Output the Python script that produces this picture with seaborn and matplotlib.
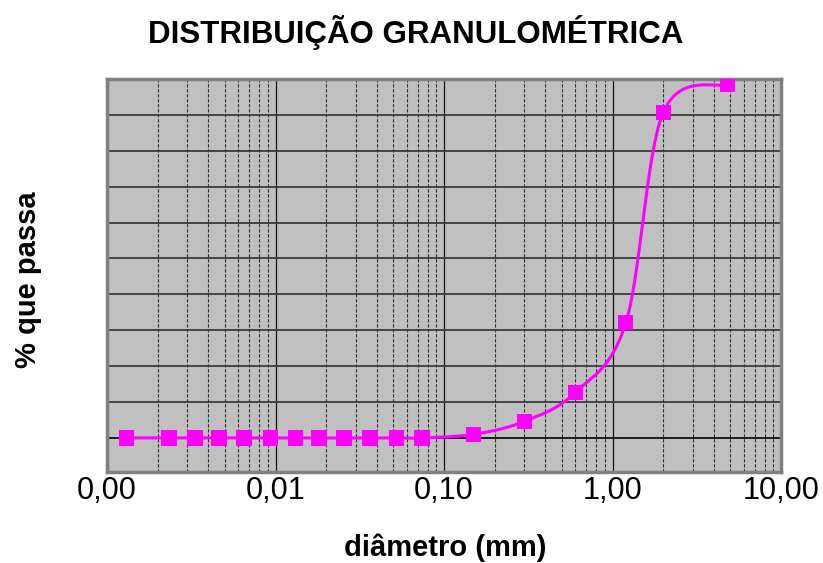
import numpy as np
import pandas as pd
import matplotlib
matplotlib.use("Agg")
import matplotlib.pyplot as plt
from matplotlib.ticker import FixedLocator, LogLocator, NullFormatter
import seaborn as sns

# Particle size distribution (sieve + sedimentation)
diametro_mm = [0.00131, 0.00233, 0.00333, 0.00462, 0.0065, 0.0093, 0.0131,
               0.0181, 0.0255, 0.0364, 0.052, 0.074, 0.15, 0.30, 0.60,
               1.2, 2.0, 4.8]
passa_pct = [0, 0, 0, 0, 0, 0, 0, 0, 0, 0, 0, 0,
             1.0, 4.6, 12.6, 32.1, 90.7, 98.5]
x_ticks = [0.001, 0.01, 0.1, 1, 10]
x_tick_labels = ["0,00", "0,01", "0,10", "1,00", "10,00"]

sns.set_theme(style="white")
plt.rcParams["font.family"] = ["Liberation Sans", "DejaVu Sans"]
plt.rcParams["text.color"] = "black"
plt.rcParams["axes.labelcolor"] = "black"

W, H = 823, 563
fig = plt.figure(figsize=(W / 100, H / 100), dpi=100)
ax = fig.add_axes([107 / W, 1 - 472 / H, (781 - 107) / W, (472 - 79) / H])

XMIN, XMAX = 1e-3, 10
YMIN, YMAX = -9.5, 100


def smooth_curve(xs, ys, n=40):
    """Catmull-Rom style Bezier smoothing in screen-proportional space."""
    axw, axh = 674.0, 393.0
    u = (np.log10(xs) - np.log10(XMIN)) / (np.log10(XMAX) - np.log10(XMIN)) * axw
    v = (np.asarray(ys, float) - YMIN) / (YMAX - YMIN) * axh
    P = np.column_stack([u, v])
    pts = []
    t = np.linspace(0, 1, n)[:, None]
    for i in range(len(P) - 1):
        p0 = P[i - 1] if i > 0 else P[i]
        p1, p2 = P[i], P[i + 1]
        p3 = P[i + 2] if i + 2 < len(P) else P[i + 1]
        c1 = p1 + (p2 - p0) / 6
        c2 = p2 - (p3 - p1) / 6
        seg = ((1 - t) ** 3) * p1 + 3 * ((1 - t) ** 2) * t * c1 \
            + 3 * (1 - t) * t ** 2 * c2 + t ** 3 * p2
        pts.append(seg if i == 0 else seg[1:])
    pts = np.vstack(pts)
    cx = 10 ** (pts[:, 0] / axw * (np.log10(XMAX) - np.log10(XMIN)) + np.log10(XMIN))
    cy = pts[:, 1] / axh * (YMAX - YMIN) + YMIN
    return cx, cy


cx, cy = smooth_curve(np.array(diametro_mm), passa_pct)
curve = pd.DataFrame({"d": cx, "p": cy})
pts = pd.DataFrame({"d": diametro_mm, "p": passa_pct})

ax.set_facecolor("#C0C0C0")
ax.set_xscale("log")
ax.set_xlim(XMIN, XMAX)
ax.set_ylim(YMIN, YMAX)

# grid
ax.xaxis.set_major_locator(FixedLocator(x_ticks))
ax.xaxis.set_minor_locator(LogLocator(base=10, subs=np.arange(2, 10)))
ax.xaxis.set_minor_formatter(NullFormatter())
ax.set_xticklabels(x_tick_labels)
ax.yaxis.set_major_locator(FixedLocator(np.arange(10, 100, 10)))
ax.set_yticklabels([])
ax.grid(True, which="major", axis="y", color="#3a3a3a", lw=1.3)
ax.grid(True, which="major", axis="x", color="#111111", lw=0.9)
ax.grid(True, which="minor", axis="x", color="#333333", lw=0.8,
        linestyle=(0, (3, 1.5)))
ax.axhline(0, color="black", lw=1.2, zorder=2)
ax.set_axisbelow(True)

sns.lineplot(data=curve, x="d", y="p", ax=ax, color="#FF00FF", lw=2.2,
             sort=False, estimator=None, zorder=3)
sns.scatterplot(data=pts, x="d", y="p", ax=ax, marker="s", s=120,
                color="#FF00FF", edgecolor="none", linewidth=0, zorder=4)

for s in ax.spines.values():
    s.set_color("#808080")
    s.set_linewidth(2.5)
    s.set_visible(True)

ax.tick_params(axis="x", which="both", length=0, pad=3, labelsize=22,
               labelcolor="black")
ax.tick_params(axis="y", which="both", length=0)

ax.set_xlabel("")
ax.set_ylabel("")
fig.text(445 / W, 1 - 548 / H, "diâmetro (mm)", ha="center", va="center",
         fontsize=21, fontweight="bold")
fig.text(28 / W, 1 - 280 / H, "% que passa", ha="center", va="center",
         rotation=90, fontsize=21, fontweight="bold")
fig.text(416 / W, 1 - 32 / H, "DISTRIBUIÇÃO GRANULOMÉTRICA", ha="center",
         va="center", fontsize=22.5, fontweight="bold")

fig.savefig("out.png", dpi=100)
